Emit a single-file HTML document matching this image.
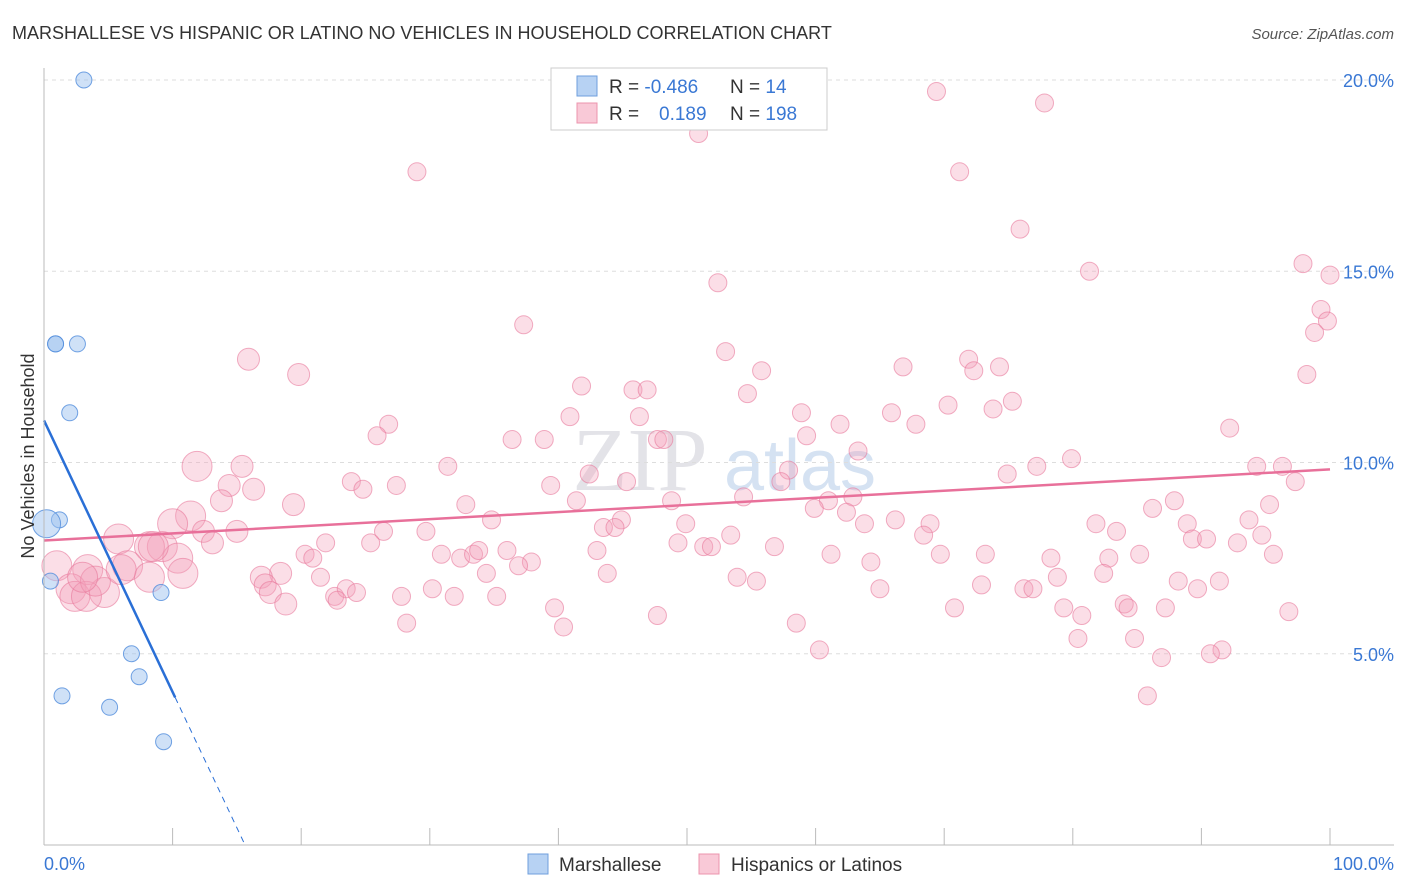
<!DOCTYPE html>
<html><head><meta charset="utf-8"><style>
body{margin:0;background:#fff;font-family:"Liberation Sans",sans-serif;}
svg{display:block}
</style></head><body>
<svg width="1406" height="892" xmlns="http://www.w3.org/2000/svg">
<text x="12" y="39" font-size="18" fill="#333">MARSHALLESE VS HISPANIC OR LATINO NO VEHICLES IN HOUSEHOLD CORRELATION CHART</text>
<text x="1394" y="39" font-size="15" fill="#555" font-style="italic" text-anchor="end">Source: ZipAtlas.com</text>
<text x="640" y="490" font-size="90" fill="#e3e3e8" font-family="Liberation Serif" text-anchor="middle">ZIP</text>
<text x="800" y="490" font-size="72" fill="#d5e2f2" text-anchor="middle">atlas</text>
<g id="grid"></g>
<g id="pts"></g>
<g id="lines"></g>
<line x1="44" y1="68" x2="44" y2="845" stroke="#bbb"/>
<line x1="44" y1="845" x2="1394" y2="845" stroke="#bbb"/>
<g id="ticks"></g>
<text transform="translate(34,456) rotate(-90)" font-size="18" fill="#333" text-anchor="middle">No Vehicles in Household</text>
<text x="44" y="870" font-size="18" fill="#3a78d4">0.0%</text>
<text x="1394" y="870" font-size="18" fill="#3a78d4" text-anchor="end">100.0%</text>
<g>
<rect x="551" y="68" width="276" height="62" fill="#fff" stroke="#ccc"/>
<rect x="577" y="76" width="20" height="20" fill="#b7d2f3" stroke="#6f9fdc"/>
<rect x="577" y="103" width="20" height="20" fill="#f9c9d7" stroke="#ec94ae"/>
<text x="609" y="93" font-size="19" fill="#333">R = <tspan fill="#3a78d4">-0.486</tspan></text>
<text x="730" y="93" font-size="19" fill="#333">N = <tspan fill="#3a78d4">14</tspan></text>
<text x="609" y="120" font-size="19" fill="#333">R = <tspan fill="#3a78d4" x="659">0.189</tspan></text>
<text x="730" y="120" font-size="19" fill="#333">N = <tspan fill="#3a78d4">198</tspan></text>
</g>
<g>
<rect x="528" y="854" width="20" height="20" fill="#b7d2f3" stroke="#6f9fdc"/>
<text x="559" y="871" font-size="19" fill="#333">Marshallese</text>
<rect x="699" y="854" width="20" height="20" fill="#f9c9d7" stroke="#ec94ae"/>
<text x="731" y="871" font-size="19" fill="#333">Hispanics or Latinos</text>
</g>
</svg>
<script>
const yTicks=[5,10,15,20];
const xTickPcts=[0,10,20,30,40,50,60,70,80,90,100];
const blueX=[3.1,0.9,0.9,2.6,2.0,1.2,0.2,0.5,9.1,6.8,7.4,1.4,5.1,9.3];
const blueY=[20.0,13.1,13.1,13.1,11.3,8.5,8.4,6.9,6.6,5.0,4.4,3.9,3.6,2.7];
const pinkX=[58.6,69.4,77.8,50.9,29.0,71.2,75.9,81.3,97.9,100,52.4,99.3,99.8,98.8,37.3,15.9,53.0,66.8,71.9,74.3,72.3,55.8,19.8,98.2,41.8,45.8,46.9,54.7,75.3,70.3,73.8,40.9,46.3,58.9,65.9,26.8,25.9,61.9,67.8,92.2,59.3,36.4,38.9,47.7,48.2,63.3,11.9,15.4,31.4,79.9,77.2,74.9,94.3,96.3,42.4,57.9,97.3,57.3,23.9,27.4,45.3,14.4,16.3,24.8,39.4,48.8,13.8,41.4,54.4,62.9,61.0,87.9,19.4,32.8,59.9,86.2,95.3,11.4,62.4,66.2,81.8,88.9,93.7,34.8,44.9,49.9,68.9,10.0,63.8,43.5,44.4,83.4,26.4,12.4,15.0,29.7,13.1,68.4,89.3,90.4,92.8,94.7,53.4,5.8,49.3,21.9,25.4,9.2,51.3,51.9,56.8,8.2,30.9,43.0,36.0,61.2,69.7,73.2,85.2,82.8,78.3,95.6,20.3,20.9,32.4,33.4,33.8,37.9,10.4,1.0,3.4,6.5,64.3,36.9,34.4,82.4,43.8,78.8,10.8,18.4,21.5,8.2,16.9,53.9,55.4,17.2,88.2,91.4,72.9,76.2,76.9,89.7,30.2,65.0,2.1,4.7,17.6,22.6,23.5,24.3,27.8,31.9,35.2,2.4,3.3,84.0,70.8,18.8,22.8,39.7,84.3,87.2,79.3,80.7,96.8,47.7,28.2,58.5,40.4,80.4,84.8,91.6,90.7,60.3,86.9,85.8,4.0,6.0,8.5,3.0];
const pinkY=[19.9,19.7,19.4,18.6,17.6,17.6,16.1,15.0,15.2,14.9,14.7,14.0,13.7,13.4,13.6,12.7,12.9,12.5,12.7,12.5,12.4,12.4,12.3,12.3,12.0,11.9,11.9,11.8,11.6,11.5,11.4,11.2,11.2,11.3,11.3,11.0,10.7,11.0,11.0,10.9,10.7,10.6,10.6,10.6,10.6,10.3,9.9,9.9,9.9,10.1,9.9,9.7,9.9,9.9,9.7,9.8,9.5,9.5,9.5,9.4,9.5,9.4,9.3,9.3,9.4,9.0,9.0,9.0,9.1,9.1,9.0,9.0,8.9,8.9,8.8,8.8,8.9,8.6,8.7,8.5,8.4,8.4,8.5,8.5,8.5,8.4,8.4,8.4,8.4,8.3,8.3,8.2,8.2,8.2,8.2,8.2,7.9,8.1,8.0,8.0,7.9,8.1,8.1,8.0,7.9,7.9,7.9,7.8,7.8,7.8,7.8,7.8,7.6,7.7,7.7,7.6,7.6,7.6,7.6,7.5,7.5,7.6,7.6,7.5,7.5,7.6,7.7,7.4,7.5,7.3,7.2,7.3,7.4,7.3,7.1,7.1,7.1,7.0,7.1,7.1,7.0,7.0,7.0,7.0,6.9,6.8,6.9,6.9,6.8,6.7,6.7,6.7,6.7,6.7,6.7,6.6,6.6,6.5,6.7,6.6,6.5,6.5,6.5,6.5,6.5,6.3,6.2,6.3,6.4,6.2,6.2,6.2,6.2,6.0,6.1,6.0,5.8,5.8,5.7,5.4,5.4,5.1,5.0,5.1,4.9,3.9,6.9,7.2,7.8,7.0];
const blueFit=[11.1,-0.71];
const pinkFit=[7.96,0.0186];
const X0=44,X1=1330,Y0=845,YS=38.25;
const sx=v=>X0+v/100*(X1-X0), sy=v=>Y0-v*YS;
const NS='http://www.w3.org/2000/svg';
function mk(tag,attrs,parent){const e=document.createElementNS(NS,tag);for(const k in attrs)e.setAttribute(k,attrs[k]);parent.appendChild(e);return e;}
const grid=document.getElementById('grid'),ticks=document.getElementById('ticks');
yTicks.forEach(t=>{
 const l=mk('line',{x1:44,x2:1394,y1:sy(t),y2:sy(t),stroke:'#ddd','stroke-dasharray':'4,4'},grid);
 
 
 const tx=mk('text',{x:1394,y:sy(t)+7,'font-size':18,fill:'#3a78d4','text-anchor':'end'},ticks);
 tx.textContent=t.toFixed(1)+'%';
 
 
});
xTickPcts.forEach(t=>{
 const l=mk('line',{x1:sx(t),x2:sx(t),y1:828,y2:845,stroke:'#bbb'},ticks);
 
 
});
const pts=document.getElementById('pts');
pinkX.forEach((x,i)=>{
 const r=x<12?15:(x<20?11:9);
 const c=mk('circle',{cx:sx(x),cy:sy(pinkY[i]),r:r,fill:'rgba(244,160,187,0.35)',stroke:'rgba(232,120,155,0.6)','stroke-width':1},pts);
 
 
});
blueX.forEach((x,i)=>{
 const r=i==6?14:8;
 const c=mk('circle',{cx:sx(x),cy:sy(blueY[i]),r:r,fill:'rgba(160,195,240,0.5)',stroke:'rgba(80,140,220,0.8)','stroke-width':1},pts);
 
 
});
const lines=document.getElementById('lines');
const pl=mk('line',{x1:sx(0),y1:sy(pinkFit[0]),x2:sx(100),y2:sy(pinkFit[0]+100*pinkFit[1]),stroke:'#e8709a','stroke-width':2.5},lines);


const xEnd=10.2, xZero=-blueFit[0]/blueFit[1];
const bl=mk('line',{x1:sx(0),y1:sy(blueFit[0]),x2:sx(xEnd),y2:sy(blueFit[0]+xEnd*blueFit[1]),stroke:'#2a6fd6','stroke-width':2.5},lines);


const bd=mk('line',{x1:sx(xEnd),y1:sy(blueFit[0]+xEnd*blueFit[1]),x2:sx(xZero),y2:sy(0),stroke:'#2a6fd6','stroke-width':1,'stroke-dasharray':'6,5'},lines);


</script>
</body></html>
